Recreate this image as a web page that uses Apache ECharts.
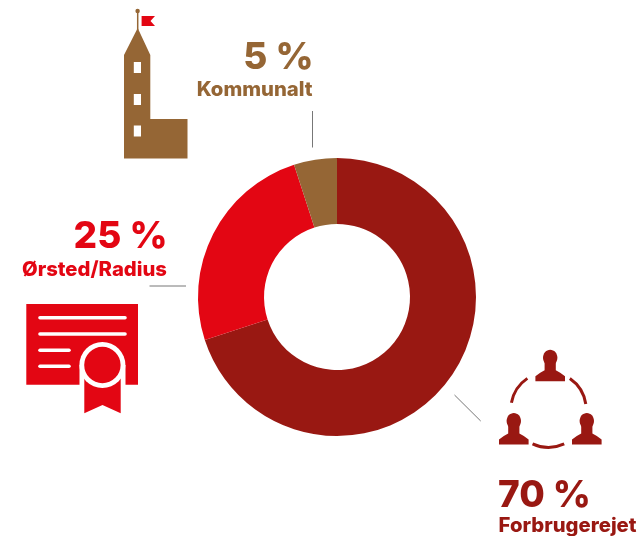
<!DOCTYPE html>
<html><head><meta charset="utf-8">
<style>html,body{margin:0;padding:0;background:#fff}#c{width:638px;height:536px}</style>
<script src="https://cdn.jsdelivr.net/npm/echarts@6/dist/echarts.min.js"></script>
</head><body><div id="c"></div>
<script>
const categories = ['Forbrugerejet', 'Ørsted/Radius', 'Kommunalt'];
const values = [70, 25, 5];
const colors = ['#991812', '#e30613', '#956635'];
const FONT = 'Inter, "DejaVu Sans", sans-serif';

const chart = echarts.init(document.getElementById('c'), null, {renderer: 'canvas'});
const label = (text, color, x, y, align, size) => ({type: 'text', x, y, style: {text, fill: color, font: `800 ${size}px ${FONT}`, textAlign: align, textVerticalAlign: 'bottom'}});
const bigText = (i, x, y, align) => label(values[i] + ' %', colors[i], x, y, align, 37);
const nameText = (i, x, y, align) => label(categories[i], colors[i], x, y, align, 20.3);
const leader = (x1, y1, x2, y2) => ({type: 'line', shape: {x1, y1, x2, y2}, style: {stroke: '#777', lineWidth: 1}});
const poly = (points, fill) => ({type: 'polygon', shape: {points}, style: {fill}});
const rect = (x, y, width, height, fill) => ({type: 'rect', shape: {x, y, width, height}, style: {fill}});
const circ = (cx, cy, r, fill) => ({type: 'circle', shape: {cx, cy, r}, style: {fill}});
const bar = (x1, x2, y) => ({type: 'line', shape: {x1, y1: y, x2, y2: y}, style: {stroke: '#fff', lineWidth: 3.6, lineCap: 'round'}});
const deg = d => d * Math.PI / 180;
const arc = (a, b) => ({type: 'arc', shape: {cx: 548.5, cy: 409.6, r: 37.7, startAngle: deg(a), endAngle: deg(b), clockwise: true}, style: {stroke: colors[0], fill: 'none', lineWidth: 3}});
const person = (cx, base) => ([
  {type: 'ellipse', shape: {cx, cy: base - 23.5, rx: 7.2, ry: 8}, style: {fill: colors[0]}},
  poly([[cx - 14.8, base], [cx - 14.8, base - 5], [cx - 10, base - 8.5], [cx - 5.6, base - 11], [cx - 5.6, base - 20], [cx + 5.6, base - 20], [cx + 5.6, base - 11], [cx + 10, base - 8.5], [cx + 14.8, base - 5], [cx + 14.8, base]], colors[0])
]);

const tower = [
  {type: 'line', shape: {x1: 137.7, y1: 11, x2: 137.7, y2: 30}, style: {stroke: colors[2], lineWidth: 1.5}},
  circ(137.6, 11, 2.2, colors[2]),
  poly([[141.6, 16], [155, 16], [150.5, 21], [155, 26], [141.6, 26]], colors[1]),
  poly([[137.7, 28], [150.3, 55], [150.3, 119], [187.5, 119], [187.5, 158.5], [124, 158.5], [124, 55]], colors[2]),
  rect(133.8, 62, 7.2, 11, '#fff'), rect(133.8, 94, 7.2, 11, '#fff'), rect(133.8, 125.5, 7.2, 11, '#fff')
];
const certificate = [
  rect(26.3, 304, 111.7, 80.7, colors[1]),
  bar(40, 125, 317.7), bar(40, 125, 334), bar(40, 69, 350.3), bar(40, 69, 366.3),
  rect(79.5, 365, 46, 20, '#fff'),
  poly([[84.3, 370], [120.7, 370], [120.7, 413.3], [102.5, 405], [84.3, 413.3]], colors[1]),
  circ(102.4, 365, 23, '#fff'),
  circ(102.4, 365, 18.2, colors[1])
];
const people = [
  ...person(550.2, 381.3), ...person(513.8, 444.4), ...person(586.8, 444.4),
  arc(190.5, 235.9), arc(-55.5, -8.5), arc(65.4, 115)
];

chart.setOption({
  animation: false,
  backgroundColor: '#fff',
  series: [{
    type: 'pie', center: [337, 297], radius: [73, 139], startAngle: 90, clockwise: true, silent: true,
    label: {show: false}, labelLine: {show: false},
    data: categories.map((name, i) => ({name, value: values[i], itemStyle: {color: colors[i]}}))
  }],
  graphic: {elements: [
    ...tower, ...certificate, ...people,
    leader(312.5, 111, 312.5, 147.5), leader(149.5, 286, 186, 286), leader(454.5, 395, 480.7, 421),
    bigText(2, 313.5, 76, 'right'), nameText(2, 312.5, 100, 'right'),
    bigText(1, 167.5, 255, 'right'), nameText(1, 167, 280, 'right'),
    bigText(0, 498, 514, 'left'), nameText(0, 498.5, 536, 'left')
  ]}
});
</script></body></html>
